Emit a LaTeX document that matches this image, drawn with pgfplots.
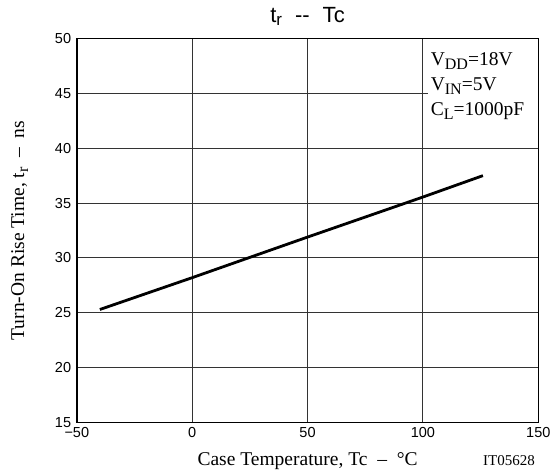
\documentclass[border=0pt]{standalone}
\usepackage{fontspec}
\setmainfont{Liberation Serif}
\newfontfamily\sansfont{Liberation Sans}
\usepackage{pgfplots}
\pgfplotsset{compat=1.18}

% lowered, slightly smaller subscript as in the datasheet
\newcommand\sub[1]{\raisebox{-4pt}{\fontsize{16}{16}\selectfont #1}}

\begin{document}
\begin{tikzpicture}
\begin{axis}[
    scale only axis,
    width=461.5pt, height=384pt,
    xmin=-50, xmax=150,
    ymin=15, ymax=50,
    xtick={-50,0,50,100,150},
    xticklabels={−50,0,50,100,150},
    ytick={15,20,25,30,35,40,45,50},
    major tick length=0pt,
    grid=major,
    grid style={black!80, line width=0.9pt},
    axis line style={black, line width=1.6pt},
    tick label style={font=\sansfont\fontsize{14.5}{16}\selectfont},
    /pgf/number format/assume math mode=true,
    yticklabel style={anchor=east, inner sep=0pt, xshift=-5.5pt},
    xticklabel style={anchor=north, inner sep=0pt, yshift=-4.5pt},
    title={t\raisebox{-3pt}{\fontsize{17}{17}\selectfont r}\hspace{13pt}-{}-\hspace{13pt}Tc},
    title style={font=\sansfont\fontsize{22}{24}\selectfont,
        at={(axis description cs:0.5,1)}, anchor=base, yshift=10.2pt},
    xlabel={Case Temperature, Tc\ \ –\ \ °C},
    xlabel style={font=\fontsize{19.5}{22}\selectfont,
        at={(axis description cs:0.5,0)}, anchor=base, yshift=-43.5pt},
    ylabel={Turn-On Rise Time, t\sub{r}\ \ –\ \ ns},
    ylabel style={font=\fontsize{19.5}{22}\selectfont,
        at={(axis description cs:-0.1144,0.5)}, anchor=base},
]
\addplot[black, line width=2.8pt, line cap=butt] coordinates {
    (-40,25.3) (0,28.2) (50,31.9) (100,35.55) (126,37.5)
};
\node[anchor=north west, fill=white, inner xsep=3pt, inner ysep=3pt,
      text width=104pt, align=left,
      font=\fontsize{19.5}{25}\selectfont,
      xshift=4.7pt, yshift=-10.8pt] at (axis cs:100,50)
    {V\sub{DD}=18V\\ V\sub{IN}=5V\\ C\sub{L}=1000pF};
\end{axis}
\node[anchor=base east, font=\fontsize{15}{16}\selectfont] at (461.5pt,-43.5pt) {IT05628};
\pgfresetboundingbox
\path[use as bounding box] (-76.8pt,-48.5pt) rectangle (475.2pt,422.5pt);
\end{tikzpicture}
\end{document}
